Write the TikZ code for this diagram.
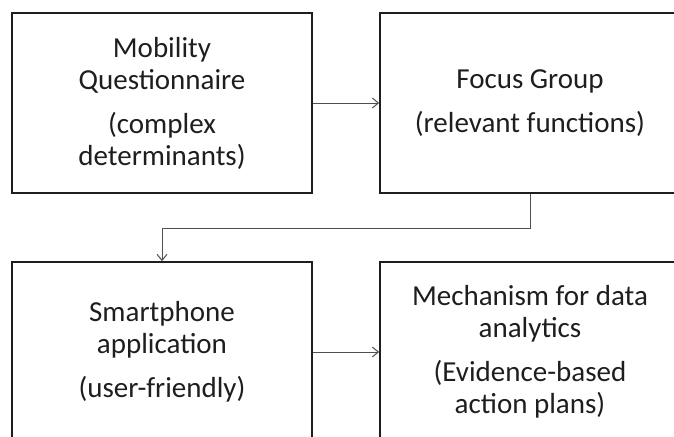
\documentclass[tikz,border=0pt]{standalone}
\usepackage{fontspec}
\setmainfont{Carlito}
\usetikzlibrary{arrows.meta,positioning}
\definecolor{ink}{HTML}{1E1E1E}
\definecolor{wire}{HTML}{505050}
\tikzset{every node/.style={font=\fontsize{29}{32}\selectfont,text=ink},
 stage/.style={draw=ink,line width=1.8pt,minimum width=300pt,minimum height=180pt,inner sep=0pt,align=center},
 flow/.style={-{Straight Barb[length=6pt,width=10pt,line width=1pt]},draw=wire,line width=1pt}}

\begin{document}
\begin{tikzpicture}[x=1pt,y=1pt]

\useasboundingbox (0,0) rectangle (674,-436);
\node[stage] (mq) at (162,-103) {Mobility\\Questionnaire\\[12pt](complex\\determinants)};
\node[stage] (fg) at (530,-103) {Focus Group\\[12pt](relevant functions)};
\node[stage] (sa) at (162,-352) {Smartphone\\application\\[12pt](user-friendly)};
\node[stage] (md) at (530,-352) {Mechanism for data\\analytics\\[12pt](Evidence-based\\action plans)};
\draw[flow] (mq.east)--(fg.west);
\draw[flow] (fg.south)--++(0,-35)-|(sa.north);
\draw[flow] (sa.east)--(md.west);

\end{tikzpicture}
\end{document}
